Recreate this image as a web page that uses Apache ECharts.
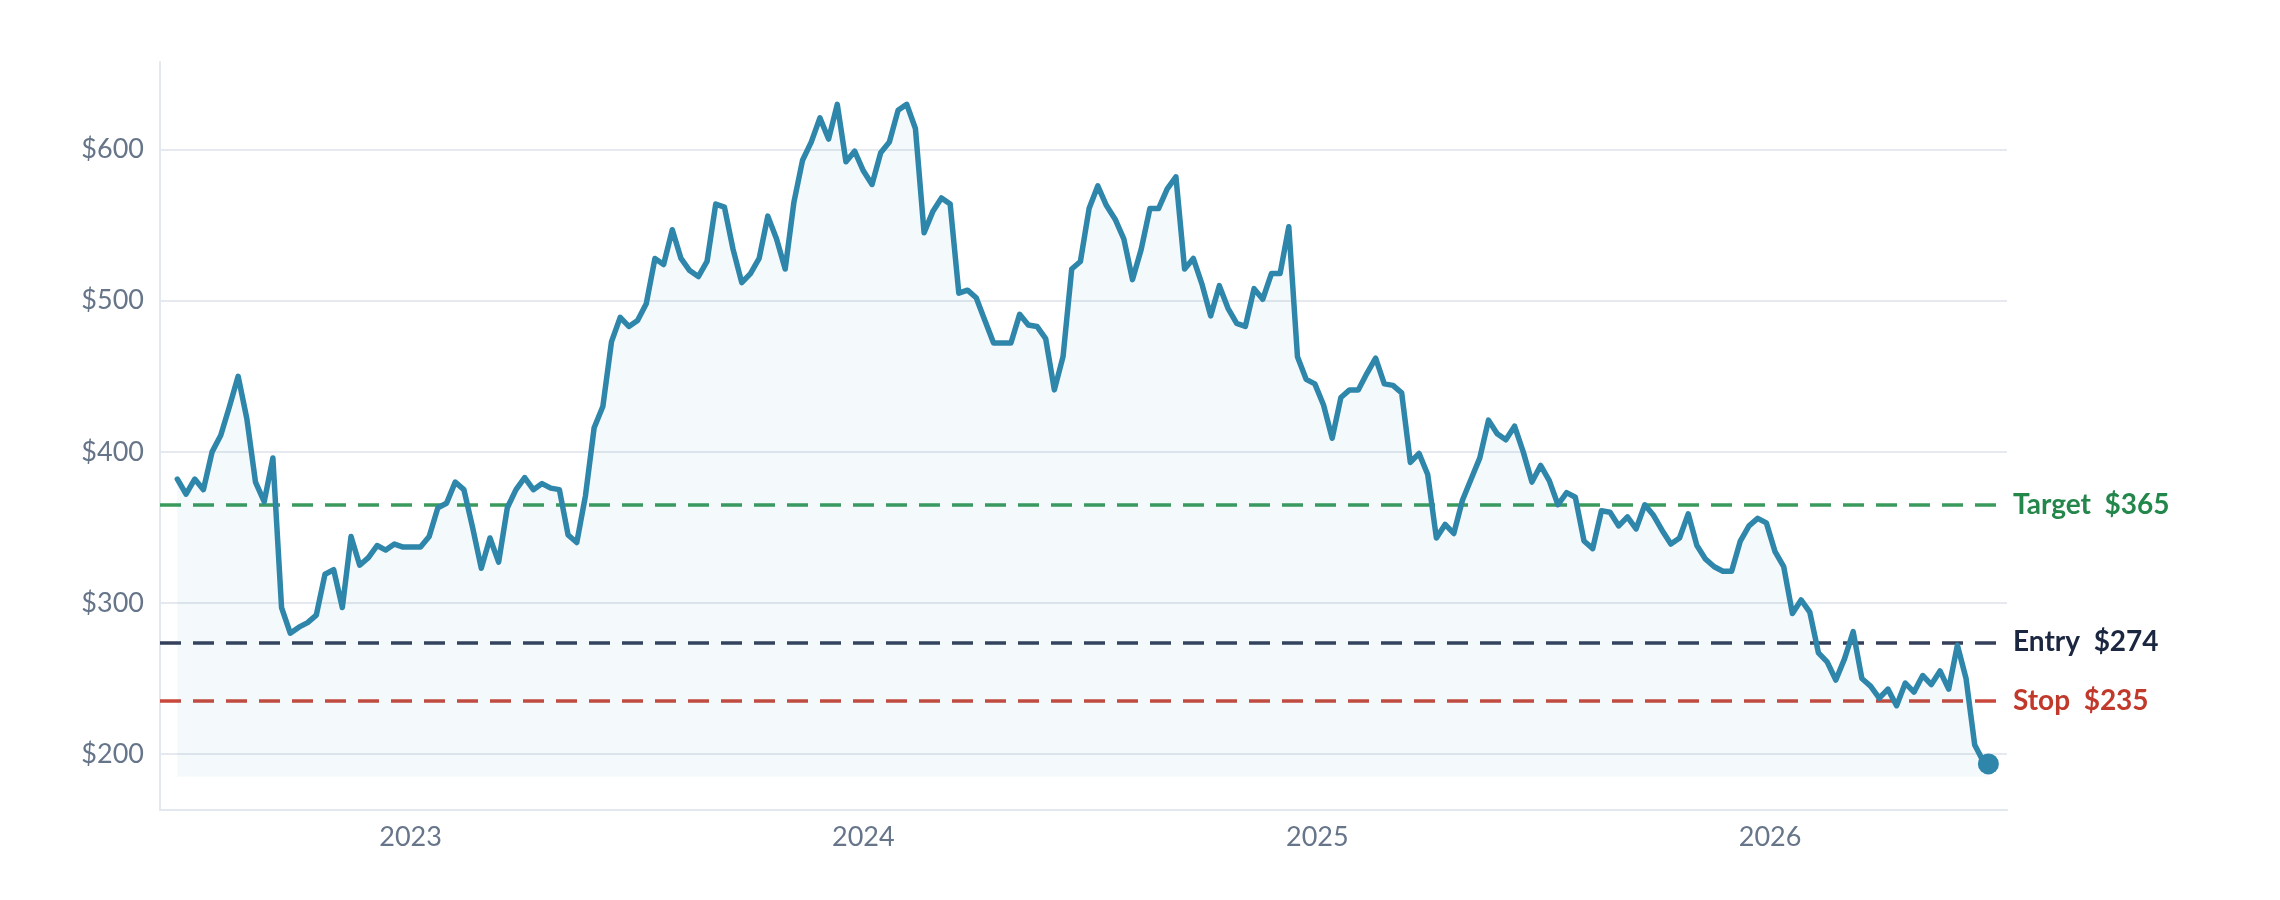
<!DOCTYPE html>
<html>
<head>
<meta charset="utf-8">
<title>Price with levels</title>
<script src="https://cdn.jsdelivr.net/npm/echarts@6/dist/echarts.min.js"></script>
<style>
    html, body { margin: 0; padding: 0; background: #fff; }
    #chart { width: 2280px; height: 900px; }
</style>
</head>
<body>
<div id="chart"></div>
<script>
// weekly closes, first week starting 2022-06-27
var startDate = '2022-06-27';
var stepDays = 7;
var prices = [
    382, 372, 382, 375, 400, 411, 430, 450, 422, 380,
    367, 396, 297, 280, 284, 287, 292, 319, 322, 297,
    344, 325, 330, 338, 335, 339, 337, 337, 337, 344,
    363, 366, 380, 375, 350, 323, 343, 327, 363, 375,
    383, 375, 379, 376, 375, 345, 340, 371, 416, 430,
    473, 489, 483, 487, 498, 528, 524, 547, 528, 520,
    516, 526, 564, 562, 534, 512, 518, 528, 556, 541,
    521, 565, 593, 605, 621, 607, 630, 592, 599, 586,
    577, 598, 605, 626, 630, 614, 545, 559, 568, 564,
    505, 507, 502, 487, 472, 472, 472, 491, 484, 483,
    475, 441, 463, 521, 526, 561, 576, 563, 554, 541,
    514, 534, 561, 561, 574, 582, 521, 528, 511, 490,
    510, 495, 485, 483, 508, 501, 518, 518, 549, 463,
    448, 445, 431, 409, 436, 441, 441, 452, 462, 445,
    444, 439, 393, 399, 385, 343, 352, 346, 368, 382,
    396, 421, 412, 408, 417, 400, 380, 391, 381, 365,
    373, 370, 341, 336, 361, 360, 351, 357, 349, 365,
    358, 348, 339, 343, 359, 338, 329, 324, 321, 321,
    341, 351, 356, 353, 334, 324, 293, 302, 294, 267,
    261, 249, 263, 281, 250, 245, 237, 243, 232, 247,
    241, 252, 246, 255, 243, 272, 250, 206, 195
];
var lastDate = '2026-06-26';
var lastPrice = 193.5;

var yearTicks = ['2023-01-01', '2024-01-01', '2025-01-01', '2026-01-01'];
var priceTicks = [200, 300, 400, 500, 600];

var levelNames = ['Target', 'Entry', 'Stop'];
var levelValues = [365, 274, 235];

var levelColors = {
    Target: {line: '#3a9a5c', text: '#23864a'},
    Entry: {line: '#34405a', text: '#1b2640'},
    Stop: {line: '#c9483b', text: '#c0392b'}
};

var DAY = 86400000;

function toTime(s) {
    return Date.parse(s + 'T00:00:00Z');
}

var t0 = toTime(startDate);
var lineData = [];
for (var i = 0; i < prices.length; i++) {
    lineData.push([t0 + i * stepDays * DAY, prices[i]]);
}
lineData.push([toTime(lastDate), lastPrice]);

var yearTimes = yearTicks.map(toTime);

var markData = [];
for (var j = 0; j < levelNames.length; j++) {
    var c = levelColors[levelNames[j]];
    markData.push({
        yAxis: levelValues[j],
        lineStyle: {color: c.line},
        label: {
            color: c.text,
            formatter: levelNames[j] + '  $' + levelValues[j]
        }
    });
}

var labelFont = {
    color: '#667589',
    fontSize: 27,
    fontFamily: 'Lato, "Noto Sans", sans-serif'
};

var myChart = echarts.init(document.getElementById('chart'));

var option = {
    animation: false,
    backgroundColor: '#ffffff',
    grid: {left: 160, right: 273, top: 62, bottom: 90},
    xAxis: {
        type: 'value',
        min: toTime('2022-06-13'),
        max: toTime('2026-07-11'),
        axisLine: {show: true, lineStyle: {color: '#e3e7ee', width: 2}},
        axisTick: {show: false, customValues: yearTimes},
        splitLine: {show: false},
        axisLabel: {
            customValues: yearTimes,
            margin: 14,
            color: labelFont.color,
            fontSize: labelFont.fontSize,
            fontFamily: labelFont.fontFamily,
            formatter: function (v) {
                return String(new Date(v).getUTCFullYear());
            }
        }
    },
    yAxis: {
        type: 'value',
        min: 163,
        max: 658,
        axisLine: {show: true, lineStyle: {color: '#e3e7ee', width: 2}},
        axisTick: {show: false, customValues: priceTicks},
        splitLine: {show: true, lineStyle: {color: '#e6e9ef', width: 2}},
        axisLabel: {
            customValues: priceTicks,
            margin: 16,
            color: labelFont.color,
            fontSize: labelFont.fontSize,
            fontFamily: labelFont.fontFamily,
            formatter: function (v) {
                return '$' + v;
            }
        }
    },
    series: [
        {
            type: 'line',
            data: lineData,
            showSymbol: false,
            symbol: 'none',
            z: 3,
            lineStyle: {color: '#2e86ab', width: 5.5, join: 'round', cap: 'round'},
            areaStyle: {color: 'rgba(46,134,171,0.07)', origin: 185},
            markLine: {
                silent: true,
                symbol: 'none',
                z: 2,
                lineStyle: {type: [21, 12], width: 3.5},
                label: {
                    show: true,
                    position: 'end',
                    distance: 6,
                    fontSize: 28,
                    fontWeight: 'bold',
                    fontFamily: labelFont.fontFamily
                },
                data: markData
            }
        },
        {
            type: 'scatter',
            z: 4,
            symbolSize: 21,
            itemStyle: {color: '#2e86ab', opacity: 1},
            data: [[toTime(lastDate), lastPrice]]
        }
    ]
};

myChart.setOption(option);
</script>
</body>
</html>
